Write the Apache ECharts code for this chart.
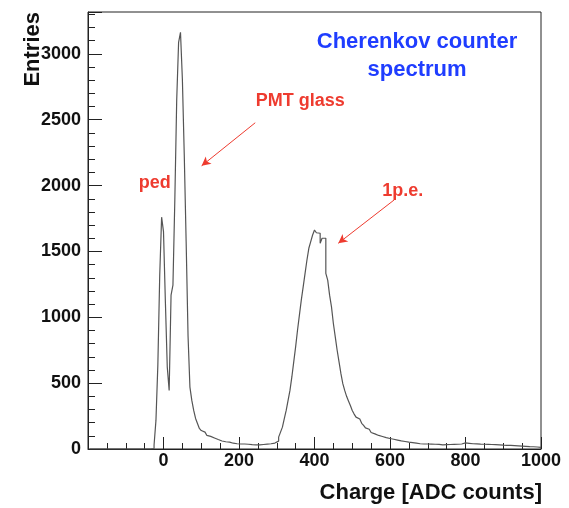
<!DOCTYPE html>
<html>
<head>
<meta charset="utf-8">
<script src="https://cdn.jsdelivr.net/npm/echarts@6/dist/echarts.min.js"></script>
<style>
  html, body { margin: 0; padding: 0; background: #fff; }
  #chart { width: 569px; height: 508px; }
</style>
</head>
<body>
<div id="chart"></div>
<script>
// Charge spectrum histogram: 5-count-wide bins starting at -195 ADC counts
const binStart = -195;
const binWidth = 5;
const counts = [
  // -195 .. -30
  0, 0, 0, 0, 0, 0, 0, 0, 0, 0,
  0, 0, 0, 0, 0, 0, 0, 0, 0, 0,
  0, 0, 0, 0, 0, 0, 0, 0, 0, 0,
  0, 0, 0,
  // -30 .. 20 : pedestal
  3, 30, 217, 635, 1320, 1760, 1650, 1117, 622, 445,
  // 20 .. 70 : PMT glass
  1168, 1244, 1891, 2652, 3088, 3164, 2810, 2234, 1574, 860,
  // 70 .. 120
  470, 369, 293, 232, 194, 156, 140, 128, 115, 103,
  // 120 .. 170
  96, 90, 84, 79, 72, 66, 61, 58, 55, 50,
  // 170 .. 220
  52, 46, 44, 41, 40, 42, 38, 36, 38, 35,
  // 220 .. 270
  36, 34, 33, 35, 32, 34, 31, 33, 34, 35,
  // 270 .. 320
  37, 38, 40, 42, 45, 50, 60, 90, 128, 166,
  // 320 .. 370 : single photo-electron peak
  230, 293, 369, 445, 547, 661, 775, 902, 1016, 1130,
  // 370 .. 420
  1231, 1333, 1435, 1524, 1574, 1625, 1663, 1642, 1638, 1562,
  // 420 .. 470
  1600, 1600, 1333, 1282, 1168, 1079, 953, 851, 750, 661,
  // 470 .. 520
  572, 496, 445, 400, 365, 330, 293, 265, 242, 228,
  // 520 .. 570
  217, 195, 179, 160, 150, 135, 125, 115, 108, 103,
  // 570 .. 620
  98, 95, 90, 86, 82, 80, 78, 74, 70, 68,
  // 620 .. 670
  65, 62, 60, 57, 55, 52, 50, 48, 46, 44,
  // 670 .. 720
  42, 40, 41, 38, 36, 38, 35, 37, 34, 36,
  // 720 .. 770
  33, 35, 34, 32, 35, 33, 36, 34, 37, 35,
  // 770 .. 820
  38, 36, 40, 38, 42, 46, 40, 43, 38, 40,
  // 820 .. 870
  36, 39, 35, 37, 34, 36, 33, 35, 32, 34,
  // 870 .. 920
  31, 33, 30, 32, 30, 29, 31, 28, 30, 27,
  // 920 .. 970
  29, 26, 27, 24, 25, 22, 23, 20, 21, 18,
  // 970 .. 1000
  19, 17, 16, 15, 14, 12
];

const xTickLabels = ['0', '200', '400', '600', '800', '1000'];
const yTickLabels = ['0', '500', '1000', '1500', '2000', '2500', '3000'];

// Step outline: each bin contributes its lower and upper edge at the bin height
const histPoints = [];
counts.forEach((c, i) => {
  const lo = binStart + i * binWidth;
  histPoints.push([lo, c], [lo + binWidth, c]);
});

const FONT = 'Liberation Sans, Arial, Helvetica, sans-serif';
const RED = '#ee3b2f';
const BLUE = '#1f3dff';
const INK = '#222';

const xMin = -200, xMax = 1000;
const yMin = 0, yMax = 3318;

const chart = echarts.init(document.getElementById('chart'), null, { renderer: 'canvas' });

chart.setOption({
  animation: false,
  backgroundColor: '#fff',
  grid: {
    left: 88, right: 28, top: 12, bottom: 59,
    show: true, borderColor: INK, borderWidth: 1, backgroundColor: 'transparent'
  },
  xAxis: [
    {
      type: 'value', min: xMin, max: xMax, interval: 200, position: 'bottom',
      axisLine: { show: true, onZero: false, lineStyle: { color: INK, width: 1 } },
      axisTick: { show: true, inside: true, length: 12, lineStyle: { color: INK } },
      splitLine: { show: false },
      axisLabel: {
        margin: 3, fontFamily: FONT, fontSize: 18, fontWeight: 'bold', color: '#111',
        formatter: v => (xTickLabels.includes(String(v)) ? String(v) : '')
      }
    },
    {
      type: 'value', min: xMin, max: xMax, interval: 50, position: 'bottom',
      axisLine: { show: false, onZero: false },
      axisTick: { show: true, inside: true, length: 6, lineStyle: { color: INK } },
      splitLine: { show: false },
      axisLabel: { show: false }
    }
  ],
  yAxis: [
    {
      type: 'value', min: yMin, max: yMax, interval: 500, position: 'left',
      axisLine: { show: true, onZero: false, lineStyle: { color: INK, width: 1 } },
      axisTick: { show: true, inside: true, length: 14, lineStyle: { color: INK } },
      splitLine: { show: false },
      axisLabel: {
        margin: 7, fontFamily: FONT, fontSize: 18, fontWeight: 'bold', color: '#111',
        formatter: v => (yTickLabels.includes(String(v)) ? String(v) : '')
      }
    },
    {
      type: 'value', min: yMin, max: yMax, interval: 100, position: 'left',
      axisLine: { show: false, onZero: false },
      axisTick: { show: true, inside: true, length: 7, lineStyle: { color: INK } },
      splitLine: { show: false },
      axisLabel: { show: false }
    }
  ],
  series: [
    {
      type: 'line',
      xAxisIndex: 0, yAxisIndex: 0,
      data: histPoints,
      symbol: 'none',
      clip: true,
      lineStyle: { color: '#555', width: 1.2 },
      markLine: {
        silent: true,
        symbol: ['none', 'arrow'],
        symbolSize: [7, 9],
        label: { show: false },
        lineStyle: { color: RED, width: 1, type: 'solid' },
        data: [
          [{ coord: [243, 2477] }, { coord: [101, 2150] }],
          [{ coord: [611, 1891] }, { coord: [463, 1562] }]
        ]
      },
      markPoint: {
        silent: true,
        symbol: 'circle',
        symbolSize: 1,
        itemStyle: { color: 'transparent' },
        label: {
          show: true, position: 'inside', color: RED,
          fontFamily: FONT, fontSize: 18, fontWeight: 'bold'
        },
        data: [
          { coord: [-23, 2020], label: { formatter: 'ped' } },
          { coord: [362, 2645], label: { formatter: 'PMT glass' } },
          { coord: [634, 1960], label: { formatter: '1p.e.' } }
        ]
      }
    }
  ],
  graphic: [
    {
      type: 'text', x: 417, y: 42,
      style: {
        text: 'Cherenkov counter', fill: BLUE, font: 'bold 22px ' + FONT,
        textAlign: 'center', textVerticalAlign: 'middle'
      }
    },
    {
      type: 'text', x: 417, y: 70,
      style: {
        text: 'spectrum', fill: BLUE, font: 'bold 22px ' + FONT,
        textAlign: 'center', textVerticalAlign: 'middle'
      }
    },
    {
      type: 'text', x: 542, y: 493,
      style: {
        text: 'Charge [ADC counts]', fill: '#111', font: 'bold 22px ' + FONT,
        textAlign: 'right', textVerticalAlign: 'middle'
      }
    },
    {
      type: 'text', x: 33, y: 12, rotation: Math.PI / 2,
      style: {
        text: 'Entries', fill: '#111', font: 'bold 22px ' + FONT,
        textAlign: 'right', textVerticalAlign: 'middle'
      }
    }
  ]
});
</script>
</body>
</html>
